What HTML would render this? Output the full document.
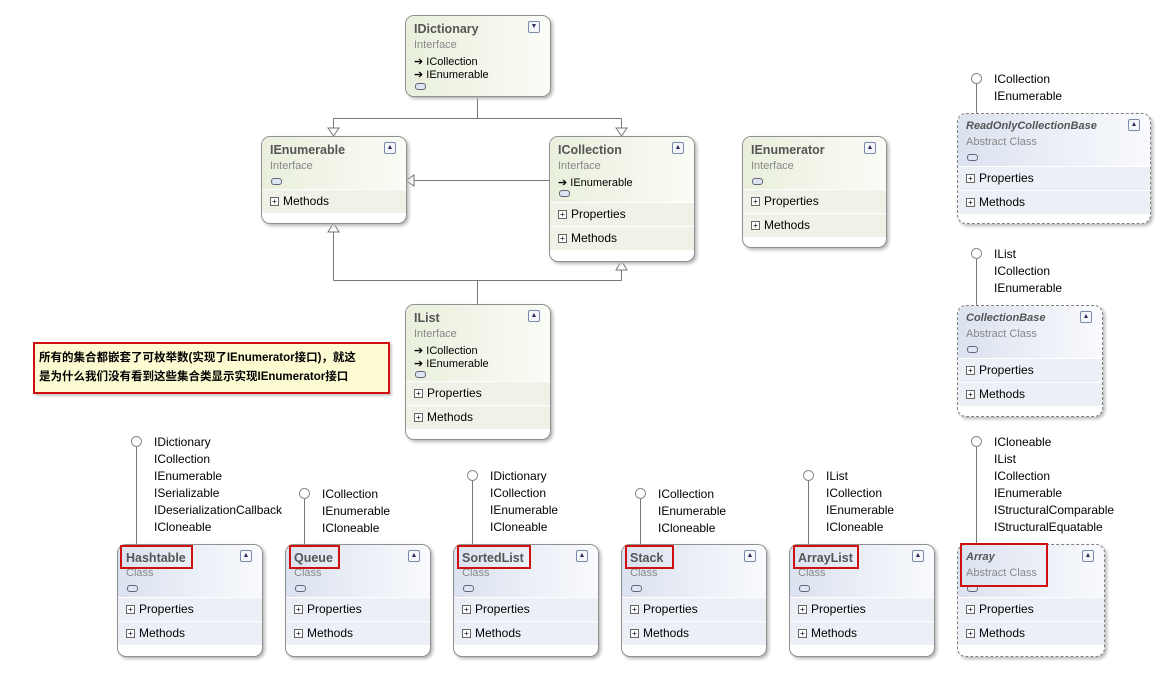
<!DOCTYPE html>
<html><head><meta charset="utf-8"><style>
body{margin:0;width:1176px;height:678px;background:#fff;position:relative;overflow:hidden;font-family:"Liberation Sans","Noto Sans CJK SC",sans-serif;font-size:12px;color:#000}
.b{position:absolute;border:1px solid #909090;border-radius:9px;box-shadow:2px 2px 3px #b8b8b8;overflow:hidden;background:#fff}
.b.d{border:1px dashed #808080}
.i .h{background:linear-gradient(90deg,#e9efdc,#fafcf6)}
.c .h{background:linear-gradient(90deg,#dbe2ef,#f9fafd)}
.h{position:absolute;left:0;right:0;top:0}
.t{position:absolute;left:8px;top:6px;font-weight:bold;color:#555;font-size:12.5px}
.d .t{font-style:italic;font-size:11px}
.s{position:absolute;left:8px;color:#888;font-size:11px}
.l{position:absolute;left:8px;font-size:11px}
.ic{position:absolute;left:9px;width:9px;height:5px;border:1px solid #667;border-radius:3px;background:#dde4f4}
.x{position:absolute;right:10px;top:5px;width:10px;height:10px;border:1px solid #7a8aa8;border-radius:2px;font-size:7px;line-height:10px;text-align:center;color:#335;background:#f4f6fb}
.r{position:absolute;left:0;right:0;height:23px;border-top:1px solid #fff;line-height:23px;padding-left:8px}
.i .r{background:#eff3e7}
.c .r{background:#eceff6}
.p{display:inline-block;width:7px;height:7px;border:1px solid #666;font-size:8px;line-height:7px;text-align:center;margin-right:4px;vertical-align:1px;background:#fff}
.lp{position:absolute;font-size:12px;line-height:17px}
.cir{position:absolute;width:9px;height:9px;border:1px solid #888;border-radius:50%;background:#fff}
.red{position:absolute;border:2px solid #d01010}
</style></head><body>
<svg width="1176" height="678" style="position:absolute;left:0;top:0">
<g stroke="#777" fill="#fff" stroke-width="1">
<path d="M477.5 95V118.5M333.5 118.5H621.5M333.5 118.5V128M621.5 118.5V128" fill="none"/>
<path d="M328 128H339L333.5 136Z"/><path d="M616 128H627L621.5 136Z"/>
<path d="M549 180.5H414" fill="none"/><path d="M414 175V186L406 180.5Z"/>
<path d="M477.5 304V280.5M333.5 280.5H621.5M333.5 280.5V231M621.5 280.5V269" fill="none"/>
<path d="M328 232H339L333.5 223Z"/><path d="M616 270H627L621.5 261Z"/>
<path d="M136.5 446V544M304.5 498V544M472.5 480V544M640.5 498V544M808.5 480V544M976.5 446V544M976.5 83V113M976.5 258V305" fill="none"/>
</g></svg>

<div class="cir" style="left:131px;top:436px"></div>
<div class="lp" style="left:154px;top:434px">IDictionary<br>ICollection<br>IEnumerable<br>ISerializable<br>IDeserializationCallback<br>ICloneable</div>
<div class="cir" style="left:299px;top:488px"></div>
<div class="lp" style="left:322px;top:486px">ICollection<br>IEnumerable<br>ICloneable</div>
<div class="cir" style="left:467px;top:470px"></div>
<div class="lp" style="left:490px;top:468px">IDictionary<br>ICollection<br>IEnumerable<br>ICloneable</div>
<div class="cir" style="left:635px;top:488px"></div>
<div class="lp" style="left:658px;top:486px">ICollection<br>IEnumerable<br>ICloneable</div>
<div class="cir" style="left:803px;top:470px"></div>
<div class="lp" style="left:826px;top:468px">IList<br>ICollection<br>IEnumerable<br>ICloneable</div>
<div class="cir" style="left:971px;top:436px"></div>
<div class="lp" style="left:994px;top:434px">ICloneable<br>IList<br>ICollection<br>IEnumerable<br>IStructuralComparable<br>IStructuralEquatable</div>
<div class="cir" style="left:971px;top:73px"></div>
<div class="lp" style="left:994px;top:71px">ICollection<br>IEnumerable</div>
<div class="cir" style="left:971px;top:248px"></div>
<div class="lp" style="left:994px;top:246px">IList<br>ICollection<br>IEnumerable</div>

<div class="b i" style="left:405px;top:15px;width:144px;height:80px"><div class="h" style="height:80px"></div>
<div class="t">IDictionary</div><div class="x">▼</div><div class="s" style="top:23px">Interface</div>
<div class="l" style="top:39px">➔ ICollection</div><div class="l" style="top:52px">➔ IEnumerable</div><div class="ic" style="top:67px"></div></div>

<div class="b i" style="left:261px;top:136px;width:144px;height:86px"><div class="h" style="height:52px"></div>
<div class="t">IEnumerable</div><div class="x">▲</div><div class="s" style="top:23px">Interface</div><div class="ic" style="top:41px"></div>
<div class="r" style="top:52px"><span class="p">+</span>Methods</div></div>

<div class="b i" style="left:549px;top:136px;width:144px;height:124px"><div class="h" style="height:65px"></div>
<div class="t">ICollection</div><div class="x">▲</div><div class="s" style="top:23px">Interface</div>
<div class="l" style="top:39px">➔ IEnumerable</div><div class="ic" style="top:53px"></div>
<div class="r" style="top:65px"><span class="p">+</span>Properties</div><div class="r" style="top:89px"><span class="p">+</span>Methods</div></div>

<div class="b i" style="left:742px;top:136px;width:143px;height:110px"><div class="h" style="height:52px"></div>
<div class="t">IEnumerator</div><div class="x">▲</div><div class="s" style="top:23px">Interface</div><div class="ic" style="top:41px"></div>
<div class="r" style="top:52px"><span class="p">+</span>Properties</div><div class="r" style="top:76px"><span class="p">+</span>Methods</div></div>

<div class="b i" style="left:405px;top:304px;width:144px;height:134px"><div class="h" style="height:76px"></div>
<div class="t">IList</div><div class="x">▲</div><div class="s" style="top:23px">Interface</div>
<div class="l" style="top:39px">➔ ICollection</div><div class="l" style="top:52px">➔ IEnumerable</div><div class="ic" style="top:66px"></div>
<div class="r" style="top:76px"><span class="p">+</span>Properties</div><div class="r" style="top:100px"><span class="p">+</span>Methods</div></div>

<div class="b c d" style="left:957px;top:113px;width:192px;height:109px"><div class="h" style="height:52px"></div>
<div class="t">ReadOnlyCollectionBase</div><div class="x">▲</div><div class="s" style="top:22px">Abstract Class</div><div class="ic" style="top:40px"></div>
<div class="r" style="top:52px"><span class="p">+</span>Properties</div><div class="r" style="top:76px"><span class="p">+</span>Methods</div></div>

<div class="b c d" style="left:957px;top:305px;width:144px;height:110px"><div class="h" style="height:52px"></div>
<div class="t">CollectionBase</div><div class="x">▲</div><div class="s" style="top:22px">Abstract Class</div><div class="ic" style="top:40px"></div>
<div class="r" style="top:52px"><span class="p">+</span>Properties</div><div class="r" style="top:76px"><span class="p">+</span>Methods</div></div>

<div class="b c" style="left:117px;top:544px;width:144px;height:111px"><div class="h" style="height:52px"></div>
<div class="t">Hashtable</div><div class="x">▲</div><div class="s" style="top:22px">Class</div><div class="ic" style="top:40px"></div>
<div class="r" style="top:52px"><span class="p">+</span>Properties</div><div class="r" style="top:76px"><span class="p">+</span>Methods</div></div>
<div class="b c" style="left:285px;top:544px;width:144px;height:111px"><div class="h" style="height:52px"></div>
<div class="t">Queue</div><div class="x">▲</div><div class="s" style="top:22px">Class</div><div class="ic" style="top:40px"></div>
<div class="r" style="top:52px"><span class="p">+</span>Properties</div><div class="r" style="top:76px"><span class="p">+</span>Methods</div></div>
<div class="b c" style="left:453px;top:544px;width:144px;height:111px"><div class="h" style="height:52px"></div>
<div class="t">SortedList</div><div class="x">▲</div><div class="s" style="top:22px">Class</div><div class="ic" style="top:40px"></div>
<div class="r" style="top:52px"><span class="p">+</span>Properties</div><div class="r" style="top:76px"><span class="p">+</span>Methods</div></div>
<div class="b c" style="left:621px;top:544px;width:144px;height:111px"><div class="h" style="height:52px"></div>
<div class="t">Stack</div><div class="x">▲</div><div class="s" style="top:22px">Class</div><div class="ic" style="top:40px"></div>
<div class="r" style="top:52px"><span class="p">+</span>Properties</div><div class="r" style="top:76px"><span class="p">+</span>Methods</div></div>
<div class="b c" style="left:789px;top:544px;width:144px;height:111px"><div class="h" style="height:52px"></div>
<div class="t">ArrayList</div><div class="x">▲</div><div class="s" style="top:22px">Class</div><div class="ic" style="top:40px"></div>
<div class="r" style="top:52px"><span class="p">+</span>Properties</div><div class="r" style="top:76px"><span class="p">+</span>Methods</div></div>
<div class="b c d" style="left:957px;top:544px;width:146px;height:111px"><div class="h" style="height:52px"></div>
<div class="t">Array</div><div class="x">▲</div><div class="s" style="top:22px">Abstract Class</div><div class="ic" style="top:40px"></div>
<div class="r" style="top:52px"><span class="p">+</span>Properties</div><div class="r" style="top:76px"><span class="p">+</span>Methods</div></div>

<div class="red" style="left:120px;top:545px;width:69px;height:20px"></div>
<div class="red" style="left:289px;top:545px;width:47px;height:20px"></div>
<div class="red" style="left:457px;top:545px;width:70px;height:20px"></div>
<div class="red" style="left:625px;top:545px;width:45px;height:20px"></div>
<div class="red" style="left:793px;top:545px;width:62px;height:20px"></div>
<div class="red" style="left:960px;top:543px;width:84px;height:40px"></div>

<div style="position:absolute;left:33px;top:342px;width:357px;height:52px;background:#fdfbd2;border:2px solid #d01010;font-size:11.5px;font-weight:bold;line-height:19px;padding:5px 0 0 4px;box-sizing:border-box;box-shadow:2px 2px 2px #ccc">所有的集合都嵌套了可枚举数(实现了IEnumerator接口)，就这<br>是为什么我们没有看到这些集合类显示实现IEnumerator接口</div>
</body></html>
